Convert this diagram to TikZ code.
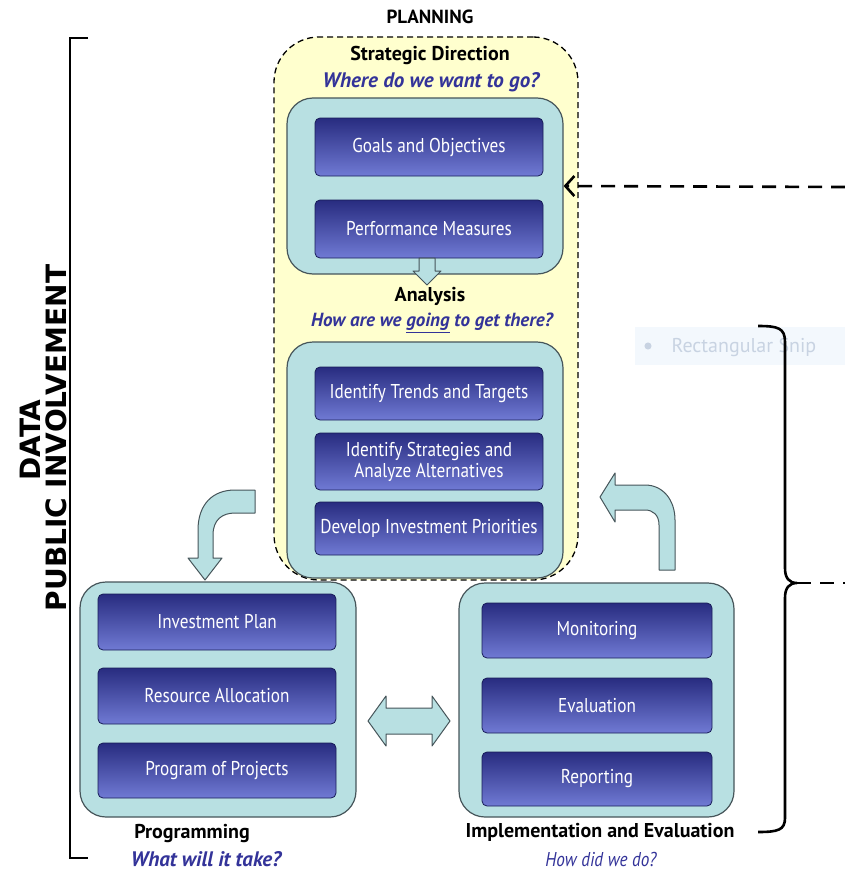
\documentclass[tikz,border=0pt]{standalone}
\usepackage{fontspec}
\setmainfont{PT Sans}
\newfontfamily\narrowfont{PT Sans}[FakeStretch=0.86]
\newfontfamily\sidefont{DejaVu Sans}
\usetikzlibrary{arrows.meta}

\definecolor{panelfill}{RGB}{184,224,226}
\definecolor{panelline}{RGB}{70,85,90}
\definecolor{planfill}{RGB}{255,255,206}
\definecolor{btntop}{RGB}{40,44,128}
\definecolor{btnmid}{RGB}{58,64,166}
\definecolor{btnbot}{RGB}{112,122,212}
\definecolor{btnline}{RGB}{24,28,88}
\definecolor{askblue}{RGB}{51,51,153}
\definecolor{snipfill}{RGB}{243,248,253}
\definecolor{sniptext}{RGB}{200,211,226}

\begin{document}
\begin{tikzpicture}[x=1pt,y=-1pt]
% Define common styles
\tikzset{
    panel/.style={draw=panelline, line width=1.2pt, fill=panelfill, rounded corners=26pt},
    btn/.style={draw=btnline, line width=0.8pt, rounded corners=5pt, top color=btntop, middle color=btnmid, bottom color=btnbot, text=white, minimum width=228pt, minimum height=56pt, align=center, inner sep=2pt, font=\narrowfont\fontsize{20}{22}\selectfont},
    head/.style={font=\bfseries\fontsize{20}{22}\selectfont},
    ask/.style={font=\bfseries\itshape\fontsize{21}{23}\selectfont, text=askblue},
    blockarrow/.style={draw=panelline, line width=1pt, fill=panelfill, line join=round},
    dasharrow/.style={-{Straight Barb[length=9pt,width=20pt]}, line width=2.6pt, dash pattern=on 14pt off 9pt},
    side/.style={font=\sidefont\bfseries\fontsize{28}{30}\selectfont, rotate=90}
}
\useasboundingbox (0,0) rectangle (845,875);

% Faint snip label behind the brace
\node[fill=snipfill, minimum width=210pt, minimum height=38pt] (snip) at (740,346) {};
\node[fill=sniptext, circle, inner sep=2.5pt] (snipdot) at (648,346) {};
\node[text=sniptext, font=\fontsize{20}{22}\selectfont, anchor=west] (sniptxt) at (668,347) {Rectangular Snip};

% Planning region
\node[draw, fill=planfill, line width=1.3pt, dash pattern=on 6pt off 4pt, rounded corners=45pt, minimum width=304pt, minimum height=543pt] (plan) at (426,308.5) {};
\node[head, font=\bfseries\fontsize{19}{21}\selectfont] (planning) at (430,17) {PLANNING};
\node[head] (stratdir) at (430,55) {Strategic Direction};
\node[ask] (wherego) at (431,82) {Where do we want to go?};

% Strategic direction panel
\node[panel, minimum width=276pt, minimum height=176pt] (stratpanel) at (425,186) {};
\node[btn, minimum height=58pt] (goals) at (429,147) {Goals and Objectives};
\node[btn, minimum height=58pt] (perf) at (429,229) {Performance Measures};
\draw[blockarrow] (419,258) -- (435,258) -- (435,271) -- (441,271) -- (427,285) -- (413,271) -- (419,271) -- cycle;

% Analysis panel
\node[head] (analysis) at (430,296) {Analysis};
\node[ask, font=\bfseries\itshape\fontsize{19}{21}\selectfont] (howget) at (432,323) {How are we \underline{going} to get there?};
\node[panel, minimum width=276pt, minimum height=236pt] (analpanel) at (425,460) {};
\node[btn, minimum height=53pt] (trends) at (429,393.5) {Identify Trends and Targets};
\node[btn, minimum height=57pt, font=\narrowfont\fontsize{20}{21}\selectfont] (strat) at (429,461.5) {Identify Strategies and\\Analyze Alternatives};
\node[btn, minimum height=53pt] (invest) at (429,528.5) {Develop Investment Priorities};

% Programming panel
\node[panel, minimum width=276pt, minimum height=235pt] (progpanel) at (218,699.5) {};
\node[btn, minimum width=238pt] (invplan) at (217,622) {Investment Plan};
\node[btn, minimum width=238pt] (alloc) at (217,696) {Resource Allocation};
\node[btn, minimum width=238pt, minimum height=55pt] (projects) at (217,770.5) {Program of Projects};
\node[head] (programming) at (192,833) {Programming};
\node[ask] (whattake) at (206,859) {What will it take?};

% Implementation panel
\node[panel, minimum width=275pt, minimum height=234pt] (implpanel) at (596.5,700) {};
\node[btn, minimum width=230pt, minimum height=55pt] (monit) at (597,630.5) {Monitoring};
\node[btn, minimum width=230pt, minimum height=55pt] (evalb) at (597,705.5) {Evaluation};
\node[btn, minimum width=230pt, minimum height=54pt] (report) at (597,779) {Reporting};
\node[head] (impl) at (600,832) {Implementation and Evaluation};
\node[ask, font=\narrowfont\itshape\fontsize{20}{22}\selectfont] (howdid) at (601,859) {How did we do?};

% Block arrows between the stages
\draw[blockarrow] (368,721) -- (386,696) -- (386,708) -- (432,708) -- (432,696) -- (450,721) -- (432,746) -- (432,734) -- (386,734) -- (386,746) -- cycle;
\draw[blockarrow] (255,490) -- (235,490) .. controls (212,490) and (198,505) .. (198,530) -- (198,558) -- (188,558) -- (205,580) -- (222,558) -- (213,558) -- (213,535) .. controls (213,520) and (222,513) .. (235,513) -- (255,513) -- cycle;
\draw[blockarrow] (600,497) -- (615,473) -- (615,485) -- (645,485) .. controls (663,485) and (675,500) .. (675,520) -- (675,570) -- (659,570) -- (659,525) .. controls (659,515) and (653,510) .. (645,510) -- (615,510) -- (615,522) -- cycle;

% Feedback lines
\coordinate (dashR) at (845,187);
\draw[dasharrow] (dashR) -- (stratpanel.east);
\coordinate (braceTip) at (797,583);
\coordinate (braceR) at (845,583);
\draw[line width=2.6pt] (758,326) .. controls (778,326) and (785,328) .. (785,342) -- (785,568) .. controls (785,578) and (789,583) .. (braceTip) .. controls (789,583) and (785,588) .. (785,598) -- (785,818) .. controls (785,830) and (778,832) .. (758,832);
\draw[line width=2.6pt, dash pattern=on 14pt off 9pt] (braceTip) -- (braceR);

% Left bracket and side labels
\draw[line width=2.6pt] (88,38) -- (70,38) -- (70,858) -- (88,858);
\node[side] (data) at (30,440) {DATA};
\node[side] (public) at (56,438) {PUBLIC INVOLVEMENT};

\end{tikzpicture}
\end{document}
